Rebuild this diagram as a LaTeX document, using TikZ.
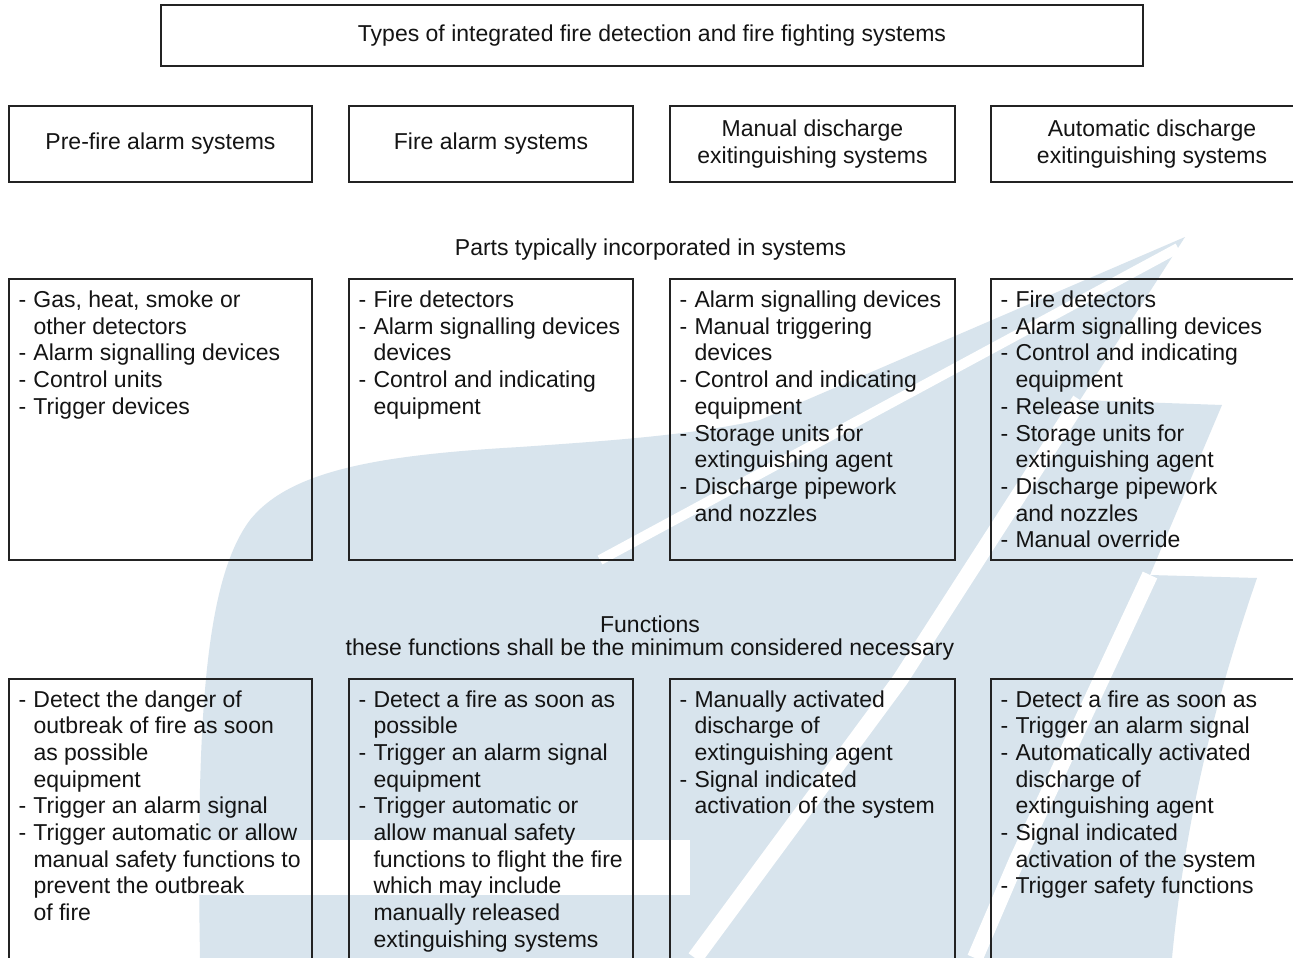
\documentclass[tikz,border=0pt]{standalone}
\usepackage{fontspec}
\setmainfont{Liberation Sans}
\usetikzlibrary{calc}
\definecolor{wm}{RGB}{216,228,237}
\definecolor{ln}{RGB}{35,35,35}
\definecolor{tx}{RGB}{20,20,20}
\newcommand{\di}[1]{\makebox[15pt][l]{-}#1}
\newcommand{\ci}[1]{\hspace*{15pt}#1}
\newcommand{\fl}{\rule{0pt}{21pt}}
\begin{document}
\begin{tikzpicture}[x=1pt,y=-1pt,
  every node/.style={font=\fontsize{23}{26.7}\selectfont, text=tx},
  frame/.style={draw=ln, line width=1.4pt, inner sep=0pt, rectangle, align=center},
  lst/.style={anchor=north west, align=left, inner sep=0pt},
  hdr/.style={align=center, inner sep=0pt},
  gap/.style={draw=white, line width=16pt, line cap=butt}]
\clip (0,0) rectangle (1293,958);
\fill[white] (0,0) rectangle (1293,958);
% watermark
\fill[wm] (200,958) .. controls (196,720) and (205,580) .. (250,520)
  .. controls (290,470) and (380,455) .. (520,447)
  .. controls (620,440) and (690,435) .. (760,420) -- (1185,237)
  -- (1080,400) -- (1222,405) -- (1150,575) -- (1257,578)
  .. controls (1215,700) and (1185,820) .. (1172,958) -- cycle;
\draw[gap, line width=10pt] (1178,248) -- (600,560);
\draw[gap] (1080,400) -- (900,680) -- (695,958);
\draw[gap] (1150,575) -- (1017,860) -- (975,958);
\fill[white] (190,840) rectangle (690,895);
% title
\node[frame, minimum width=982pt, minimum height=61pt] (title) at (652,35.5)
  {Types of integrated fire detection and fire fighting systems};
% row 1
\node[frame, minimum width=303pt, minimum height=76pt] (t1) at (160.5,144) {Pre-fire alarm systems};
\node[frame, minimum width=284pt, minimum height=76pt] (t2) at (491,144) {Fire alarm systems};
\node[frame, minimum width=285pt, minimum height=76pt] (t3) at (812.5,144) {Manual discharge\\exitinguishing systems};
\node[frame, minimum width=322pt, minimum height=76pt] (t4) at (1152,144) {Automatic discharge\\exitinguishing systems};
% header
\node[hdr] (parts) at (650.5,249.5) {Parts typically incorporated in systems};
% row 2 boxes
\node[frame, minimum width=303pt, minimum height=281pt] (p1) at (160.5,419.5) {};
\node[frame, minimum width=284pt, minimum height=281pt] (p2) at (491,419.5) {};
\node[frame, minimum width=285pt, minimum height=281pt] (p3) at (812.5,419.5) {};
\node[frame, minimum width=322pt, minimum height=281pt] (p4) at (1152,419.5) {};
\node[lst] (pl1) at ($(p1.north west)+(10,8)$) {\fl\di{Gas, heat, smoke or}\\\ci{other detectors}\\\di{Alarm signalling devices}\\\di{Control units}\\\di{Trigger devices}};
\node[lst] (pl2) at ($(p2.north west)+(10,8)$) {\fl\di{Fire detectors}\\\di{Alarm signalling devices}\\\ci{devices}\\\di{Control and indicating}\\\ci{equipment}};
\node[lst] (pl3) at ($(p3.north west)+(10,8)$) {\fl\di{Alarm signalling devices}\\\di{Manual triggering}\\\ci{devices}\\\di{Control and indicating}\\\ci{equipment}\\\di{Storage units for}\\\ci{extinguishing agent}\\\di{Discharge pipework}\\\ci{and nozzles}};
\node[lst] (pl4) at ($(p4.north west)+(10,8)$) {\fl\di{Fire detectors}\\\di{Alarm signalling devices}\\\di{Control and indicating}\\\ci{equipment}\\\di{Release units}\\\di{Storage units for}\\\ci{extinguishing agent}\\\di{Discharge pipework}\\\ci{and nozzles}\\\di{Manual override}};
% header 2
\node[hdr] (fun) at (650,638) {Functions\\[-4pt]these functions shall be the minimum considered necessary};
% row 3 boxes
\node[frame, minimum width=303pt, minimum height=321pt] (f1) at (160.5,839.5) {};
\node[frame, minimum width=284pt, minimum height=321pt] (f2) at (491,839.5) {};
\node[frame, minimum width=285pt, minimum height=321pt] (f3) at (812.5,839.5) {};
\node[frame, minimum width=322pt, minimum height=321pt] (f4) at (1152,839.5) {};
\node[lst] (fl1) at ($(f1.north west)+(10,7.5)$) {\fl\di{Detect the danger of}\\\ci{outbreak of fire as soon}\\\ci{as possible}\\\ci{equipment}\\\di{Trigger an alarm signal}\\\di{Trigger automatic or allow}\\\ci{manual safety functions to}\\\ci{prevent the outbreak}\\\ci{of fire}};
\node[lst] (fl2) at ($(f2.north west)+(10,7.5)$) {\fl\di{Detect a fire as soon as}\\\ci{possible}\\\di{Trigger an alarm signal}\\\ci{equipment}\\\di{Trigger automatic or}\\\ci{allow manual safety}\\\ci{functions to flight the fire}\\\ci{which may include}\\\ci{manually released}\\\ci{extinguishing systems}};
\node[lst] (fl3) at ($(f3.north west)+(10,7.5)$) {\fl\di{Manually activated}\\\ci{discharge of}\\\ci{extinguishing agent}\\\di{Signal indicated}\\\ci{activation of the system}};
\node[lst] (fl4) at ($(f4.north west)+(10,7.5)$) {\fl\di{Detect a fire as soon as}\\\di{Trigger an alarm signal}\\\di{Automatically activated}\\\ci{discharge of}\\\ci{extinguishing agent}\\\di{Signal indicated}\\\ci{activation of the system}\\\di{Trigger safety functions}};
\end{tikzpicture}
\end{document}
